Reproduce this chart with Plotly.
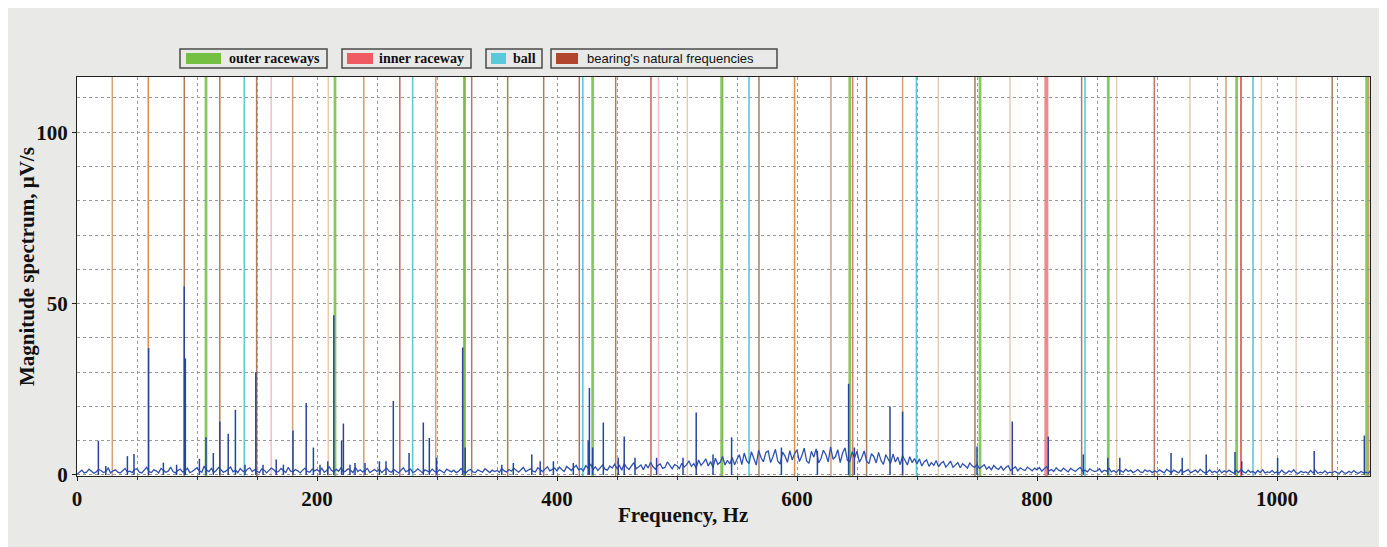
import plotly.graph_objects as go

# ---------------- data ----------------
# broadband spectrum level, one value per 2 Hz bin starting at 0 Hz
noise_level = [
    0.2, 0.9, 1.4, 0.6, 0.8, 1.7, 1.1, 0.5, 0.9, 1.6, 1.3, 0.7, 1.0, 2.0, 0.6, 1.2, 1.5, 0.8, 0.6, 1.4, 1.9, 0.9, 1.1, 0.7, 1.6,
    1.8, 0.8, 0.6, 1.3, 2.2, 1.0, 0.7, 1.5, 1.2, 0.6, 1.9, 1.4, 0.8, 1.1, 2.3, 1.0, 0.6, 1.3, 1.7, 0.9, 1.2, 2.0, 0.7, 1.0, 1.6,
    2.1, 1.2, 0.8, 2.6, 1.4, 1.0, 1.9, 0.7, 1.3, 2.2, 1.6, 0.8, 1.1, 1.8, 2.3, 0.9, 1.4, 0.7, 1.9, 1.2, 0.8, 1.7, 2.1, 1.0, 1.5,
    1.1, 0.7, 1.8, 1.4, 0.6, 1.2, 2.0, 1.5, 0.8, 1.0, 1.9, 1.3, 0.7, 2.2, 1.1, 0.9, 1.6, 1.2, 0.6, 1.4, 2.0, 1.0, 0.8, 1.7, 1.2,
    1.6, 1.0, 2.0, 0.8, 1.3, 2.4, 1.4, 0.9, 1.7, 1.1, 2.1, 0.8, 1.2, 1.8, 1.4, 0.7, 2.2, 1.0, 1.5, 0.9, 1.3, 1.9, 0.7, 1.2, 1.6,
    1.0, 1.7, 0.7, 1.3, 2.0, 1.1, 0.8, 1.6, 1.2, 0.6, 1.4, 2.1, 0.9, 1.2, 1.7, 0.7, 1.1, 1.8, 1.3, 0.6, 1.5, 1.1, 0.8, 1.7, 1.0,
    0.8, 1.5, 1.1, 0.6, 1.7, 1.2, 0.9, 1.4, 0.7, 1.1, 1.9, 1.0, 0.6, 1.3, 1.6, 0.9, 0.7, 1.5, 1.1, 0.8, 1.8, 1.2, 0.7, 1.4, 1.0,
    1.3, 0.8, 1.9, 1.2, 0.9, 1.6, 1.1, 2.0, 1.4, 0.8, 1.5, 2.2, 1.0, 1.3, 1.8, 1.1, 0.9, 2.1, 1.4, 1.0, 1.7, 2.4, 1.2, 1.5, 2.0,
    1.2, 2.3, 1.6, 1.0, 2.5, 1.8, 1.3, 2.1, 2.8, 1.5, 1.9, 1.2, 2.7, 2.0, 3.2, 1.6, 2.4, 1.3, 2.2, 2.9, 1.7, 1.4, 2.6, 2.0, 3.1,
    1.9, 2.8, 1.4, 3.3, 2.2, 1.6, 2.5, 3.6, 1.8, 2.3, 2.9, 1.5, 3.1, 2.0, 3.7, 2.4, 1.7, 2.8, 3.2, 1.9, 2.2, 3.8, 2.6, 1.8, 3.0,
    2.7, 1.9, 3.4, 2.3, 3.0, 4.1, 2.5, 3.3, 2.0, 4.4, 2.8, 3.6, 4.7, 2.6, 3.9, 2.2, 4.9, 3.1, 3.7, 5.4, 2.9, 4.3, 3.2, 5.1, 3.0,
    4.6, 5.9, 3.0, 6.4, 4.2, 3.3, 6.8, 4.9, 2.9, 7.2, 5.1, 3.8, 6.5, 7.0, 3.6, 5.4, 7.5, 4.0, 3.2, 6.7, 5.5, 3.7, 7.1, 4.4, 6.2,
    7.3, 3.9, 5.6, 7.8, 4.1, 3.4, 6.9, 5.2, 7.6, 3.5, 4.8, 7.2, 6.0, 3.8, 8.2, 4.6, 5.3, 7.4, 3.6, 6.4, 7.9, 4.3, 3.9, 6.8, 5.0,
    6.9, 3.7, 5.1, 7.0, 4.0, 3.3, 6.2, 5.4, 3.5, 6.6, 4.2, 3.1, 5.9, 4.6, 3.4, 6.1, 3.8, 5.2, 3.0, 5.6, 4.1, 2.9, 5.3, 3.6, 4.8,
    3.2, 4.7, 2.6, 3.9, 4.4, 2.5, 3.6, 2.8, 4.2, 2.4, 3.4, 3.9, 2.3, 3.1, 4.0, 2.2, 2.9, 3.6, 2.1, 3.3, 2.7, 2.0, 3.5, 2.6, 2.2,
    3.1, 1.9, 2.6, 3.0, 1.7, 2.4, 1.5, 2.8, 2.0, 1.6, 2.5, 1.4, 2.2, 2.7, 1.3, 1.9, 2.4, 1.2, 2.1, 1.6, 1.3, 2.3, 1.8, 1.2, 2.0,
    1.5, 2.2, 1.1, 1.8, 2.4, 1.2, 1.6, 1.0, 2.1, 1.4, 1.1, 2.0, 1.3, 0.9, 1.9, 1.5, 1.0, 1.7, 2.2, 1.1, 1.4, 0.9, 1.8, 1.3, 1.0,
    1.2, 1.8, 0.8, 1.4, 1.1, 1.9, 0.9, 1.3, 0.7, 1.6, 1.2, 0.8, 1.7, 1.0, 1.4, 0.7, 1.1, 1.6, 0.9, 0.7, 1.5, 1.0, 1.3, 0.7, 1.2,
    0.8, 1.5, 1.0, 0.6, 1.6, 1.1, 0.7, 1.4, 0.9, 0.6, 1.5, 0.8, 1.2, 1.6, 0.6, 0.9, 1.4, 0.7, 1.7, 1.0, 0.6, 0.8, 1.5, 0.7, 1.1,
    0.7, 1.5, 0.6, 1.2, 0.8, 1.4, 0.9, 0.5, 1.3, 0.7, 1.6, 0.9, 0.6, 1.4, 0.8, 1.0, 0.5, 1.3, 0.7, 1.5, 0.6, 0.9, 0.7, 1.3, 0.6,
    0.9, 0.6, 1.4, 0.7, 0.5, 1.2, 0.8, 1.5, 0.6, 0.5, 1.1, 0.7, 0.9, 0.5, 1.3, 0.6, 1.4, 0.5, 0.8, 0.6, 1.2, 0.5, 0.8, 0.6, 1.1,
    0.7, 0.5, 1.2, 0.6, 0.5, 1.1, 0.6, 1.3, 0.7, 0.5, 1.0, 0.6, 0.8, 0.5, 1.2, 0.6, 1.3, 0.7, 0.8, 0.5, 1.1, 0.5, 0.8, 0.6, 0.7,
]
bin_width_hz = 2.0

# discrete spectral peaks (Hz, µV/s)
peak_freq = [17.8, 24.0, 42.0, 47.5, 59.7, 72.0, 83.0, 89.4, 90.3, 102.0, 107.5, 113.6, 119.0, 126.0, 132.0,
             140.0, 149.0, 155.0, 166.0, 172.0, 180.0, 191.0, 197.0, 202.5, 209.0, 214.0, 220.5, 222.0, 227.5,
             231.7, 240.0, 252.0, 257.5, 263.6, 276.7, 288.6, 293.6, 299.7, 321.4, 323.5, 354.0, 363.6, 379.0,
             386.0, 397.0, 413.6, 426.0, 427.0, 429.7, 438.6, 451.0, 456.0, 465.0, 483.0, 505.0, 516.0, 530.0,
             545.5, 587.0, 617.0, 643.0, 647.8, 677.5, 688.0, 750.0, 779.4, 809.4, 838.6, 859.0, 869.0, 911.7,
             921.0, 941.0, 965.0, 970.6, 1000.5, 1031.0, 1072.8]
peak_amp = [10.0, 2.6, 5.5, 6.1, 37.0, 3.6, 3.0, 55.0, 34.0, 4.7, 11.0, 6.4, 15.6, 12.0, 19.0,
            3.0, 30.0, 3.0, 4.5, 3.0, 13.0, 21.0, 8.0, 3.0, 4.0, 46.6, 10.0, 15.0, 3.0,
            3.5, 3.5, 4.0, 4.0, 21.6, 6.4, 15.3, 10.8, 5.0, 37.2, 8.0, 3.0, 3.5, 6.0,
            4.0, 4.0, 3.5, 10.0, 25.4, 8.0, 15.3, 5.0, 11.2, 5.0, 5.0, 5.0, 18.2, 6.0,
            11.0, 8.0, 7.0, 26.6, 8.0, 20.0, 18.5, 8.3, 15.6, 11.2, 6.0, 5.0, 5.0, 6.4,
            5.0, 6.0, 6.7, 4.0, 5.0, 7.0, 11.5]

# characteristic defect frequencies (Hz)
outer_freq = [107.5, 215.0, 322.8, 429.7, 537.2, 644.0, 752.5, 859.4, 966.4, 1074.7]
inner_freq = [161.8, 323.2, 484.6, 646.4, 807.8, 970.0]
inner_shade = ["light", "hidden", "light", "hidden", "strong", "mid"]
ball_freq = [139.4, 279.7, 421.5, 560.0, 699.5, 840.0, 980.0]
natural_freq = [29.4, 59.4, 89.4, 119.0, 149.7, 179.7, 209.4, 239.0, 269.0, 299.0, 328.9, 358.9,
                388.9, 418.6, 448.9, 478.3, 508.6, 538.0, 568.3, 598.0, 628.3, 658.0, 688.0, 717.8,
                748.3, 777.5, 807.5, 837.2, 866.4, 897.8, 927.5, 957.5, 987.0, 1016.0, 1046.0, 1076.4]
natural_shade = ["m", "o", "d", "d", "d", "m", "l", "m", "r", "m", "d", "d",
                 "d", "r", "d", "r", "l", "m", "d", "o", "m", "d", "m", "l",
                 "d", "l", "m", "d", "l", "d", "l", "m", "l", "l", "d", "m"]

x_ticks = [0, 200, 400, 600, 800, 1000]
y_ticks = [0, 50, 100]
legend_labels = ["outer raceways", "inner raceway", "ball", "bearing's natural frequencies"]

# ---------------- layout geometry ----------------
# the page body adds an 8 px offset; plot area spans x 77..1370, y 77..476 on screen
PAGE_OFF = 8
W, H = 1387 - PAGE_OFF, 547 - PAGE_OFF
L, R, T, B = 77 - PAGE_OFF, 17, 77 - PAGE_OFF, 71
PW, PH = 1293, 399


def px(x):  # screen x -> paper
    return (x - 77) / PW


def py(y):  # screen y -> paper
    return (476 - y) / PH


SERIF = "Liberation Serif, Times New Roman, serif"
SANS = "Liberation Sans, Arial, sans-serif"

GREEN = "#74c043"
RED = "#f05a62"
CYAN = "#5cc8dc"
BROWN = "#b2452e"
nat_colors = {"d": "#b07a5c", "m": "#cfa07c", "l": "#e6cdb2", "o": "#d98c52", "r": "#c0685a"}
inner_colors = {"strong": "#f08a8a", "mid": "#f06a70", "light": "#f5bccb", "hidden": "#e07878"}
inner_widths = {"strong": 4, "mid": 2, "light": 1.5, "hidden": 1.5}

fig = go.Figure()

shapes = []
# white plotting area
shapes.append(dict(type="rect", xref="paper", yref="paper", x0=0, x1=1, y0=0, y1=1,
                   fillcolor="white", line=dict(width=0), layer="below"))

# characteristic lines
for f, s in zip(natural_freq, natural_shade):
    shapes.append(dict(type="line", xref="x", yref="paper", x0=f, x1=f, y0=0, y1=1,
                       line=dict(color=nat_colors[s], width=1.5), layer="between"))
for f in ball_freq:
    shapes.append(dict(type="line", xref="x", yref="paper", x0=f, x1=f, y0=0, y1=1,
                       line=dict(color=CYAN, width=1.6), layer="between"))
for f, s in zip(inner_freq, inner_shade):
    shapes.append(dict(type="line", xref="x", yref="paper", x0=f, x1=f, y0=0, y1=1,
                       line=dict(color=inner_colors[s], width=inner_widths[s]), layer="between"))
for f in outer_freq:
    shapes.append(dict(type="line", xref="x", yref="paper", x0=f, x1=f, y0=0, y1=1,
                       line=dict(color=GREEN, width=2.8), opacity=0.85, layer="between"))

# spectrum: broadband floor + discrete peaks
freqs = [i * bin_width_hz for i in range(len(noise_level))]
fig.add_trace(go.Scatter(x=freqs, y=noise_level, mode="lines",
                         line=dict(color="#2f52b0", width=1.3), showlegend=False, hoverinfo="skip"))
sx, sy = [], []
for f, a in zip(peak_freq, peak_amp):
    sx += [f, f, None]
    sy += [0, a, None]
fig.add_trace(go.Scatter(x=sx, y=sy, mode="lines",
                         line=dict(color="#27449a", width=1.5), showlegend=False, hoverinfo="skip"))

# legend boxes (custom, each entry framed)
legend_boxes = [(180, 327, 186, 221, GREEN, 227, SERIF, True, 14),
                (342, 471, 347, 373, RED, 377, SERIF, True, 14),
                (486, 542, 491, 506, CYAN, 511, SERIF, True, 14),
                (551, 777, 556, 578, BROWN, 585, SANS, False, 13)]
annotations = []
for (bx0, bx1, sw0, sw1, col, tx, fam, bold, fs), lab in zip(legend_boxes, legend_labels):
    shapes.append(dict(type="rect", xref="paper", yref="paper", x0=px(bx0), x1=px(bx1), y0=py(68), y1=py(49),
                       line=dict(color="#4a4a4a", width=1.5), fillcolor="rgba(0,0,0,0)", layer="above"))
    shapes.append(dict(type="rect", xref="paper", yref="paper", x0=px(sw0), x1=px(sw1), y0=py(64), y1=py(53),
                       line=dict(width=0), fillcolor=col, layer="above"))
    annotations.append(dict(xref="paper", yref="paper", x=px(tx), y=py(58.5), xanchor="left", yanchor="middle",
                            text=("<b>%s</b>" % lab) if bold else lab, showarrow=False,
                            font=dict(family=fam, size=fs, color="#111")))

# axis titles
annotations.append(dict(xref="paper", yref="paper", x=px(683), y=py(515), xanchor="center", yanchor="middle",
                        text="<b>Frequency, Hz</b>", showarrow=False,
                        font=dict(family=SERIF, size=21, color="#111")))
annotations.append(dict(xref="paper", yref="paper", x=px(27), y=py(267), xanchor="center", yanchor="middle",
                        text="<b>Magnitude spectrum, μV/s</b>", textangle=-90, showarrow=False,
                        font=dict(family=SERIF, size=21, color="#111")))

fig.update_layout(
    width=W, height=H,
    margin=dict(l=L, r=R, t=T, b=B),
    paper_bgcolor="#e9e9e7",
    plot_bgcolor="rgba(0,0,0,0)",
    shapes=shapes,
    annotations=annotations,
    showlegend=False,
)
fig.update_xaxes(range=[0, 1077.5], tickvals=x_ticks, ticktext=["<b>%d</b>" % v for v in x_ticks],
                 showgrid=True, gridcolor="#9a9a9a", griddash="dot", gridwidth=1,
                 minor=dict(dtick=50, showgrid=True, gridcolor="#9a9a9a", griddash="dot", gridwidth=1,
                            ticks="outside", ticklen=3, tickcolor="#333"),
                 ticks="outside", ticklen=4, tickcolor="#222",
                 showline=True, linecolor="#222", linewidth=1.2, mirror=True, zeroline=False,
                 tickfont=dict(family=SERIF, size=21, color="#111"))
fig.update_yaxes(range=[-0.3, 116.1], tickvals=y_ticks, ticktext=["<b>%d</b>" % v for v in y_ticks],
                 showgrid=True, gridcolor="#9a9a9a", griddash="dot", gridwidth=1,
                 minor=dict(dtick=10, showgrid=True, gridcolor="#9a9a9a", griddash="dot", gridwidth=1),
                 ticks="outside", ticklen=4, tickcolor="#222",
                 showline=True, linecolor="#222", linewidth=1.2, mirror=True, zeroline=False,
                 tickfont=dict(family=SERIF, size=21, color="#111"))

fig.write_html("out.html")
